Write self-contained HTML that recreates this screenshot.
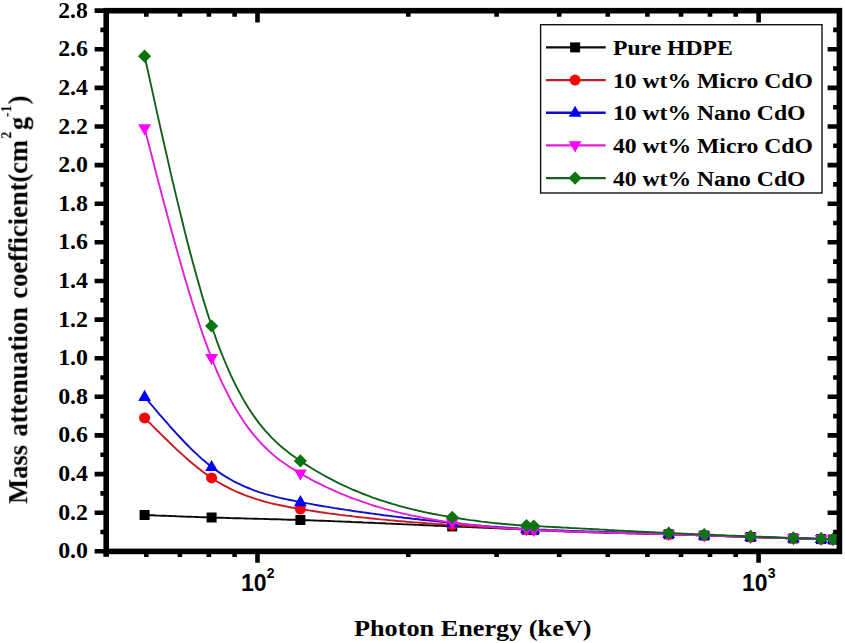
<!DOCTYPE html>
<html><head><meta charset="utf-8"><title>Mass attenuation coefficient</title>
<style>
html,body{margin:0;padding:0;background:#fff;}
body{width:845px;height:643px;position:relative;overflow:hidden;font-family:"Liberation Serif",serif;font-weight:bold;color:#000;}
#wrap{position:absolute;left:0;top:0;width:845px;height:643px;filter:blur(0.55px);}
.yt{position:absolute;right:757.1px;width:60px;text-align:right;font-size:23.3px;line-height:24px;height:24px;transform:scaleX(1.025);transform-origin:100% 50%;white-space:nowrap;}
.lg{position:absolute;left:613.3px;font-size:21.3px;line-height:24px;height:24px;white-space:nowrap;transform:scaleX(1.11);transform-origin:0 50%;}
.xt{position:absolute;font-family:"Liberation Sans",sans-serif;font-weight:bold;font-size:23px;line-height:24px;height:24px;white-space:nowrap;}
.xt sup{font-size:14px;position:relative;top:-4.4px;vertical-align:top;line-height:13px;margin-left:0.2px;}
#xl{position:absolute;left:353.7px;top:613.4px;font-size:23.5px;line-height:30px;white-space:nowrap;transform:scaleX(1.116);transform-origin:0 50%;}
#yl{position:absolute;left:0;top:0;font-size:26.45px;word-spacing:2px;line-height:30px;height:30px;white-space:nowrap;transform-origin:0 0;}
#yl sup{font-size:13.8px;vertical-align:14.9px;line-height:0;}
</style></head><body><div id="wrap">
<svg width="845" height="643" viewBox="0 0 845 643" style="position:absolute;left:0;top:0">
<rect width="845" height="643" fill="#fff"/>
<path d="M144.6 515.0 L147.5 515.1 L150.4 515.2 L153.3 515.3 L156.1 515.5 L159.0 515.6 L161.9 515.7 L164.8 515.8 L167.7 515.9 L170.5 516.0 L173.4 516.1 L176.3 516.3 L179.2 516.4 L182.1 516.5 L184.9 516.6 L187.8 516.7 L190.7 516.8 L193.6 516.9 L196.5 517.0 L199.4 517.1 L202.2 517.2 L205.1 517.3 L208.0 517.4 L210.9 517.5 L213.8 517.6 L216.6 517.7 L219.5 517.8 L222.4 517.8 L225.3 517.9 L228.2 518.0 L231.0 518.1 L233.9 518.2 L236.8 518.2 L239.7 518.3 L242.6 518.4 L245.4 518.5 L248.3 518.6 L251.2 518.6 L254.1 518.7 L257.0 518.8 L259.8 518.9 L262.7 518.9 L265.6 519.0 L268.5 519.1 L271.4 519.2 L274.2 519.2 L277.1 519.3 L280.0 519.4 L282.9 519.5 L285.8 519.6 L288.6 519.7 L291.5 519.7 L294.4 519.8 L297.3 519.9 L300.2 520.0 L303.0 520.1 L305.9 520.2 L308.8 520.3 L311.7 520.4 L314.6 520.5 L317.5 520.6 L320.3 520.7 L323.2 520.8 L326.1 520.9 L329.0 521.0 L331.9 521.1 L334.7 521.3 L337.6 521.4 L340.5 521.5 L343.4 521.6 L346.3 521.7 L349.1 521.8 L352.0 522.0 L354.9 522.1 L357.8 522.2 L360.7 522.3 L363.5 522.5 L366.4 522.6 L369.3 522.7 L372.2 522.8 L375.1 523.0 L377.9 523.1 L380.8 523.2 L383.7 523.3 L386.6 523.5 L389.5 523.6 L392.3 523.7 L395.2 523.9 L398.1 524.0 L401.0 524.1 L403.9 524.3 L406.7 524.4 L409.6 524.5 L412.5 524.6 L415.4 524.8 L418.3 524.9 L421.2 525.0 L424.0 525.2 L426.9 525.3 L429.8 525.4 L432.7 525.5 L435.6 525.7 L438.4 525.8 L441.3 525.9 L444.2 526.0 L447.1 526.2 L450.0 526.3 L452.8 526.4 L455.7 526.5 L458.6 526.7 L461.5 526.8 L464.4 526.9 L467.2 527.0 L470.1 527.1 L473.0 527.3 L475.9 527.4 L478.8 527.5 L481.6 527.6 L484.5 527.7 L487.4 527.8 L490.3 528.0 L493.2 528.1 L496.0 528.2 L498.9 528.3 L501.8 528.5 L504.7 528.6 L507.6 528.7 L510.4 528.9 L513.3 529.0 L516.2 529.1 L519.1 529.3 L522.0 529.4 L524.8 529.6 L527.7 529.7 L530.6 529.9 L533.5 530.0 L536.4 530.2 L539.3 530.3 L542.1 530.5 L545.0 530.6 L547.9 530.7 L550.8 530.9 L553.7 531.0 L556.5 531.1 L559.4 531.2 L562.3 531.3 L565.2 531.4 L568.1 531.5 L570.9 531.6 L573.8 531.7 L576.7 531.8 L579.6 531.9 L582.5 532.0 L585.3 532.1 L588.2 532.2 L591.1 532.3 L594.0 532.4 L596.9 532.4 L599.7 532.5 L602.6 532.6 L605.5 532.7 L608.4 532.7 L611.3 532.8 L614.1 532.9 L617.0 533.0 L619.9 533.0 L622.8 533.1 L625.7 533.2 L628.5 533.2 L631.4 533.3 L634.3 533.4 L637.2 533.5 L640.1 533.5 L643.0 533.6 L645.8 533.7 L648.7 533.8 L651.6 533.8 L654.5 533.9 L657.4 534.0 L660.2 534.1 L663.1 534.1 L666.0 534.2 L668.9 534.3 L671.8 534.4 L674.6 534.5 L677.5 534.6 L680.4 534.7 L683.3 534.8 L686.2 534.9 L689.0 535.0 L691.9 535.1 L694.8 535.1 L697.7 535.2 L700.6 535.3 L703.4 535.4 L706.3 535.5 L709.2 535.6 L712.1 535.7 L715.0 535.8 L717.8 535.9 L720.7 536.0 L723.6 536.1 L726.5 536.2 L729.4 536.3 L732.2 536.4 L735.1 536.5 L738.0 536.6 L740.9 536.7 L743.8 536.8 L746.6 536.9 L749.5 537.0 L752.4 537.1 L755.3 537.2 L758.2 537.3 L761.1 537.4 L763.9 537.5 L766.8 537.5 L769.7 537.6 L772.6 537.7 L775.5 537.8 L778.3 537.9 L781.2 538.0 L784.1 538.1 L787.0 538.2 L789.9 538.3 L792.7 538.3 L795.6 538.4 L798.5 538.5 L801.4 538.6 L804.3 538.7 L807.1 538.7 L810.0 538.8 L812.9 538.9 L815.8 539.0 L818.7 539.1 L821.5 539.1 L824.4 539.2 L827.3 539.3 L830.2 539.4 L833.1 539.5" fill="none" stroke="#0a0a0a" stroke-width="1.9" stroke-linejoin="round"/>
<rect x="139.6" y="510.0" width="10.0" height="10.0" fill="#000000"/>
<rect x="206.6" y="512.5" width="10.0" height="10.0" fill="#000000"/>
<rect x="295.4" y="515.0" width="10.0" height="10.0" fill="#000000"/>
<rect x="447.2" y="521.4" width="10.0" height="10.0" fill="#000000"/>
<rect x="521.5" y="524.7" width="10.0" height="10.0" fill="#000000"/>
<rect x="528.8" y="525.1" width="10.0" height="10.0" fill="#000000"/>
<rect x="663.7" y="529.3" width="10.0" height="10.0" fill="#000000"/>
<rect x="699.2" y="530.5" width="10.0" height="10.0" fill="#000000"/>
<rect x="745.6" y="532.0" width="10.0" height="10.0" fill="#000000"/>
<rect x="788.4" y="533.4" width="10.0" height="10.0" fill="#000000"/>
<rect x="816.1" y="534.1" width="10.0" height="10.0" fill="#000000"/>
<rect x="828.1" y="534.5" width="10.0" height="10.0" fill="#000000"/>
<path d="M144.6 417.9 L147.5 420.8 L150.4 423.7 L153.3 426.6 L156.1 429.5 L159.0 432.3 L161.9 435.2 L164.8 438.0 L167.7 440.8 L170.5 443.6 L173.4 446.4 L176.3 449.1 L179.2 451.7 L182.1 454.4 L184.9 456.9 L187.8 459.5 L190.7 461.9 L193.6 464.4 L196.5 466.7 L199.4 469.0 L202.2 471.2 L205.1 473.4 L208.0 475.4 L210.9 477.4 L213.8 479.3 L216.6 481.2 L219.5 482.9 L222.4 484.6 L225.3 486.1 L228.2 487.7 L231.0 489.1 L233.9 490.5 L236.8 491.8 L239.7 493.0 L242.6 494.2 L245.4 495.4 L248.3 496.4 L251.2 497.4 L254.1 498.4 L257.0 499.3 L259.8 500.2 L262.7 501.0 L265.6 501.8 L268.5 502.6 L271.4 503.3 L274.2 504.0 L277.1 504.6 L280.0 505.2 L282.9 505.8 L285.8 506.4 L288.6 507.0 L291.5 507.5 L294.4 508.0 L297.3 508.5 L300.2 509.0 L303.0 509.5 L305.9 509.9 L308.8 510.4 L311.7 510.8 L314.6 511.3 L317.5 511.7 L320.3 512.1 L323.2 512.5 L326.1 513.0 L329.0 513.4 L331.9 513.7 L334.7 514.1 L337.6 514.5 L340.5 514.9 L343.4 515.2 L346.3 515.6 L349.1 515.9 L352.0 516.3 L354.9 516.6 L357.8 517.0 L360.7 517.3 L363.5 517.6 L366.4 517.9 L369.3 518.2 L372.2 518.5 L375.1 518.8 L377.9 519.1 L380.8 519.4 L383.7 519.6 L386.6 519.9 L389.5 520.2 L392.3 520.4 L395.2 520.7 L398.1 521.0 L401.0 521.2 L403.9 521.4 L406.7 521.7 L409.6 521.9 L412.5 522.2 L415.4 522.4 L418.3 522.6 L421.2 522.8 L424.0 523.0 L426.9 523.3 L429.8 523.5 L432.7 523.7 L435.6 523.9 L438.4 524.1 L441.3 524.3 L444.2 524.5 L447.1 524.7 L450.0 524.9 L452.8 525.1 L455.7 525.3 L458.6 525.5 L461.5 525.6 L464.4 525.8 L467.2 526.0 L470.1 526.2 L473.0 526.4 L475.9 526.6 L478.8 526.7 L481.6 526.9 L484.5 527.1 L487.4 527.3 L490.3 527.4 L493.2 527.6 L496.0 527.8 L498.9 527.9 L501.8 528.1 L504.7 528.3 L507.6 528.4 L510.4 528.6 L513.3 528.8 L516.2 528.9 L519.1 529.1 L522.0 529.2 L524.8 529.4 L527.7 529.5 L530.6 529.7 L533.5 529.8 L536.4 530.0 L539.3 530.1 L542.1 530.3 L545.0 530.4 L547.9 530.5 L550.8 530.7 L553.7 530.8 L556.5 530.9 L559.4 531.0 L562.3 531.1 L565.2 531.3 L568.1 531.4 L570.9 531.5 L573.8 531.6 L576.7 531.7 L579.6 531.8 L582.5 531.9 L585.3 532.0 L588.2 532.1 L591.1 532.1 L594.0 532.2 L596.9 532.3 L599.7 532.4 L602.6 532.5 L605.5 532.6 L608.4 532.6 L611.3 532.7 L614.1 532.8 L617.0 532.9 L619.9 533.0 L622.8 533.0 L625.7 533.1 L628.5 533.2 L631.4 533.3 L634.3 533.3 L637.2 533.4 L640.1 533.5 L643.0 533.6 L645.8 533.7 L648.7 533.7 L651.6 533.8 L654.5 533.9 L657.4 534.0 L660.2 534.1 L663.1 534.1 L666.0 534.2 L668.9 534.3 L671.8 534.4 L674.6 534.5 L677.5 534.6 L680.4 534.7 L683.3 534.8 L686.2 534.9 L689.0 535.0 L691.9 535.1 L694.8 535.1 L697.7 535.2 L700.6 535.3 L703.4 535.4 L706.3 535.5 L709.2 535.6 L712.1 535.7 L715.0 535.8 L717.8 535.9 L720.7 536.0 L723.6 536.1 L726.5 536.2 L729.4 536.3 L732.2 536.4 L735.1 536.5 L738.0 536.6 L740.9 536.7 L743.8 536.8 L746.6 536.9 L749.5 537.0 L752.4 537.1 L755.3 537.2 L758.2 537.3 L761.1 537.4 L763.9 537.5 L766.8 537.5 L769.7 537.6 L772.6 537.7 L775.5 537.8 L778.3 537.9 L781.2 538.0 L784.1 538.1 L787.0 538.2 L789.9 538.3 L792.7 538.3 L795.6 538.4 L798.5 538.5 L801.4 538.6 L804.3 538.7 L807.1 538.7 L810.0 538.8 L812.9 538.9 L815.8 539.0 L818.7 539.1 L821.5 539.1 L824.4 539.2 L827.3 539.3 L830.2 539.4 L833.1 539.5" fill="none" stroke="#c81820" stroke-width="1.9" stroke-linejoin="round"/>
<circle cx="144.6" cy="417.9" r="5.5" fill="#f00808"/>
<circle cx="211.6" cy="477.9" r="5.5" fill="#f00808"/>
<circle cx="300.4" cy="509.0" r="5.5" fill="#f00808"/>
<circle cx="452.2" cy="525.0" r="5.5" fill="#f00808"/>
<circle cx="526.5" cy="529.5" r="5.5" fill="#f00808"/>
<circle cx="533.8" cy="529.9" r="5.5" fill="#f00808"/>
<circle cx="668.7" cy="534.3" r="5.5" fill="#f00808"/>
<circle cx="704.2" cy="535.5" r="5.5" fill="#f00808"/>
<circle cx="750.6" cy="537.0" r="5.5" fill="#f00808"/>
<circle cx="793.4" cy="538.4" r="5.5" fill="#f00808"/>
<circle cx="821.1" cy="539.1" r="5.5" fill="#f00808"/>
<circle cx="833.1" cy="539.5" r="5.5" fill="#f00808"/>
<path d="M144.6 396.8 L147.5 400.2 L150.4 403.6 L153.3 407.0 L156.1 410.4 L159.0 413.8 L161.9 417.1 L164.8 420.4 L167.7 423.7 L170.5 427.0 L173.4 430.2 L176.3 433.3 L179.2 436.5 L182.1 439.5 L184.9 442.5 L187.8 445.5 L190.7 448.4 L193.6 451.2 L196.5 453.9 L199.4 456.6 L202.2 459.2 L205.1 461.6 L208.0 464.0 L210.9 466.3 L213.8 468.5 L216.6 470.6 L219.5 472.6 L222.4 474.6 L225.3 476.4 L228.2 478.1 L231.0 479.7 L233.9 481.3 L236.8 482.8 L239.7 484.2 L242.6 485.6 L245.4 486.8 L248.3 488.0 L251.2 489.2 L254.1 490.3 L257.0 491.3 L259.8 492.3 L262.7 493.2 L265.6 494.1 L268.5 494.9 L271.4 495.7 L274.2 496.4 L277.1 497.2 L280.0 497.9 L282.9 498.5 L285.8 499.1 L288.6 499.7 L291.5 500.3 L294.4 500.9 L297.3 501.5 L300.2 502.0 L303.0 502.6 L305.9 503.1 L308.8 503.6 L311.7 504.1 L314.6 504.7 L317.5 505.2 L320.3 505.7 L323.2 506.2 L326.1 506.6 L329.0 507.1 L331.9 507.6 L334.7 508.1 L337.6 508.5 L340.5 509.0 L343.4 509.4 L346.3 509.9 L349.1 510.3 L352.0 510.8 L354.9 511.2 L357.8 511.6 L360.7 512.0 L363.5 512.4 L366.4 512.8 L369.3 513.2 L372.2 513.6 L375.1 514.0 L377.9 514.4 L380.8 514.8 L383.7 515.2 L386.6 515.5 L389.5 515.9 L392.3 516.3 L395.2 516.6 L398.1 517.0 L401.0 517.3 L403.9 517.7 L406.7 518.0 L409.6 518.3 L412.5 518.7 L415.4 519.0 L418.3 519.3 L421.2 519.7 L424.0 520.0 L426.9 520.3 L429.8 520.6 L432.7 520.9 L435.6 521.2 L438.4 521.5 L441.3 521.8 L444.2 522.1 L447.1 522.4 L450.0 522.7 L452.8 523.0 L455.7 523.3 L458.6 523.5 L461.5 523.8 L464.4 524.1 L467.2 524.4 L470.1 524.6 L473.0 524.9 L475.9 525.2 L478.8 525.4 L481.6 525.7 L484.5 525.9 L487.4 526.1 L490.3 526.4 L493.2 526.6 L496.0 526.8 L498.9 527.1 L501.8 527.3 L504.7 527.5 L507.6 527.7 L510.4 527.9 L513.3 528.1 L516.2 528.3 L519.1 528.5 L522.0 528.6 L524.8 528.8 L527.7 529.0 L530.6 529.1 L533.5 529.3 L536.4 529.4 L539.3 529.6 L542.1 529.7 L545.0 529.8 L547.9 530.0 L550.8 530.1 L553.7 530.2 L556.5 530.3 L559.4 530.4 L562.3 530.5 L565.2 530.7 L568.1 530.8 L570.9 530.9 L573.8 531.0 L576.7 531.1 L579.6 531.2 L582.5 531.3 L585.3 531.4 L588.2 531.4 L591.1 531.5 L594.0 531.6 L596.9 531.7 L599.7 531.8 L602.6 531.9 L605.5 532.0 L608.4 532.1 L611.3 532.1 L614.1 532.2 L617.0 532.3 L619.9 532.4 L622.8 532.5 L625.7 532.6 L628.5 532.6 L631.4 532.7 L634.3 532.8 L637.2 532.9 L640.1 533.0 L643.0 533.1 L645.8 533.2 L648.7 533.2 L651.6 533.3 L654.5 533.4 L657.4 533.5 L660.2 533.6 L663.1 533.7 L666.0 533.8 L668.9 533.9 L671.8 534.0 L674.6 534.1 L677.5 534.2 L680.4 534.4 L683.3 534.5 L686.2 534.6 L689.0 534.7 L691.9 534.8 L694.8 534.9 L697.7 535.0 L700.6 535.1 L703.4 535.2 L706.3 535.3 L709.2 535.5 L712.1 535.6 L715.0 535.7 L717.8 535.8 L720.7 535.8 L723.6 535.9 L726.5 536.0 L729.4 536.1 L732.2 536.2 L735.1 536.3 L738.0 536.4 L740.9 536.5 L743.8 536.6 L746.6 536.7 L749.5 536.8 L752.4 536.9 L755.3 537.0 L758.2 537.1 L761.1 537.2 L763.9 537.3 L766.8 537.3 L769.7 537.4 L772.6 537.5 L775.5 537.6 L778.3 537.7 L781.2 537.8 L784.1 537.9 L787.0 538.0 L789.9 538.1 L792.7 538.2 L795.6 538.2 L798.5 538.3 L801.4 538.4 L804.3 538.5 L807.1 538.5 L810.0 538.6 L812.9 538.7 L815.8 538.8 L818.7 538.9 L821.5 539.0 L824.4 539.0 L827.3 539.1 L830.2 539.2 L833.1 539.3" fill="none" stroke="#1010c8" stroke-width="1.9" stroke-linejoin="round"/>
<path d="M144.6 389.8L151.0 400.9L138.2 400.9Z" fill="#0000ff"/>
<path d="M211.6 459.9L218.0 471.0L205.2 471.0Z" fill="#0000ff"/>
<path d="M300.4 495.1L306.8 506.2L294.0 506.2Z" fill="#0000ff"/>
<path d="M452.2 515.9L458.6 527.0L445.8 527.0Z" fill="#0000ff"/>
<path d="M526.5 521.9L532.9 533.0L520.1 533.0Z" fill="#0000ff"/>
<path d="M533.8 522.3L540.2 533.4L527.4 533.4Z" fill="#0000ff"/>
<path d="M668.7 526.9L675.1 538.0L662.3 538.0Z" fill="#0000ff"/>
<path d="M704.2 528.3L710.6 539.4L697.8 539.4Z" fill="#0000ff"/>
<path d="M750.6 529.8L757.0 540.9L744.2 540.9Z" fill="#0000ff"/>
<path d="M793.4 531.2L799.8 542.3L787.0 542.3Z" fill="#0000ff"/>
<path d="M821.1 531.9L827.5 543.0L814.7 543.0Z" fill="#0000ff"/>
<path d="M833.1 532.3L839.5 543.4L826.7 543.4Z" fill="#0000ff"/>
<path d="M144.6 128.4 L147.5 139.6 L150.4 150.7 L153.3 161.8 L156.1 172.9 L159.0 183.9 L161.9 194.9 L164.8 205.7 L167.7 216.5 L170.5 227.1 L173.4 237.6 L176.3 248.0 L179.2 258.2 L182.1 268.3 L184.9 278.2 L187.8 287.8 L190.7 297.3 L193.6 306.5 L196.5 315.5 L199.4 324.2 L202.2 332.7 L205.1 340.9 L208.0 348.7 L210.9 356.3 L213.8 363.5 L216.6 370.5 L219.5 377.1 L222.4 383.4 L225.3 389.4 L228.2 395.1 L231.0 400.5 L233.9 405.7 L236.8 410.6 L239.7 415.3 L242.6 419.7 L245.4 424.0 L248.3 427.9 L251.2 431.7 L254.1 435.3 L257.0 438.7 L259.8 441.9 L262.7 445.0 L265.6 447.8 L268.5 450.6 L271.4 453.2 L274.2 455.6 L277.1 458.0 L280.0 460.2 L282.9 462.3 L285.8 464.3 L288.6 466.3 L291.5 468.1 L294.4 469.9 L297.3 471.7 L300.2 473.4 L303.0 475.0 L305.9 476.6 L308.8 478.2 L311.7 479.8 L314.6 481.3 L317.5 482.8 L320.3 484.2 L323.2 485.6 L326.1 487.0 L329.0 488.4 L331.9 489.7 L334.7 491.0 L337.6 492.2 L340.5 493.5 L343.4 494.7 L346.3 495.8 L349.1 497.0 L352.0 498.1 L354.9 499.2 L357.8 500.2 L360.7 501.2 L363.5 502.2 L366.4 503.2 L369.3 504.2 L372.2 505.1 L375.1 506.0 L377.9 506.9 L380.8 507.7 L383.7 508.6 L386.6 509.4 L389.5 510.1 L392.3 510.9 L395.2 511.6 L398.1 512.4 L401.0 513.1 L403.9 513.7 L406.7 514.4 L409.6 515.0 L412.5 515.7 L415.4 516.3 L418.3 516.8 L421.2 517.4 L424.0 518.0 L426.9 518.5 L429.8 519.0 L432.7 519.5 L435.6 520.0 L438.4 520.5 L441.3 520.9 L444.2 521.4 L447.1 521.8 L450.0 522.2 L452.8 522.6 L455.7 523.0 L458.6 523.4 L461.5 523.8 L464.4 524.1 L467.2 524.5 L470.1 524.8 L473.0 525.1 L475.9 525.4 L478.8 525.7 L481.6 526.0 L484.5 526.3 L487.4 526.6 L490.3 526.9 L493.2 527.1 L496.0 527.4 L498.9 527.6 L501.8 527.8 L504.7 528.1 L507.6 528.3 L510.4 528.5 L513.3 528.7 L516.2 528.9 L519.1 529.0 L522.0 529.2 L524.8 529.4 L527.7 529.5 L530.6 529.7 L533.5 529.8 L536.4 530.0 L539.3 530.1 L542.1 530.3 L545.0 530.4 L547.9 530.5 L550.8 530.7 L553.7 530.8 L556.5 530.9 L559.4 531.0 L562.3 531.1 L565.2 531.2 L568.1 531.3 L570.9 531.5 L573.8 531.6 L576.7 531.7 L579.6 531.8 L582.5 531.8 L585.3 531.9 L588.2 532.0 L591.1 532.1 L594.0 532.2 L596.9 532.3 L599.7 532.4 L602.6 532.5 L605.5 532.6 L608.4 532.6 L611.3 532.7 L614.1 532.8 L617.0 532.9 L619.9 532.9 L622.8 533.0 L625.7 533.1 L628.5 533.2 L631.4 533.3 L634.3 533.3 L637.2 533.4 L640.1 533.5 L643.0 533.6 L645.8 533.6 L648.7 533.7 L651.6 533.8 L654.5 533.9 L657.4 534.0 L660.2 534.1 L663.1 534.1 L666.0 534.2 L668.9 534.3 L671.8 534.4 L674.6 534.5 L677.5 534.6 L680.4 534.7 L683.3 534.8 L686.2 534.9 L689.0 535.0 L691.9 535.1 L694.8 535.1 L697.7 535.2 L700.6 535.3 L703.4 535.4 L706.3 535.5 L709.2 535.6 L712.1 535.7 L715.0 535.8 L717.8 535.9 L720.7 536.0 L723.6 536.1 L726.5 536.2 L729.4 536.3 L732.2 536.4 L735.1 536.5 L738.0 536.6 L740.9 536.7 L743.8 536.8 L746.6 536.9 L749.5 537.0 L752.4 537.1 L755.3 537.2 L758.2 537.3 L761.1 537.4 L763.9 537.5 L766.8 537.5 L769.7 537.6 L772.6 537.7 L775.5 537.8 L778.3 537.9 L781.2 538.0 L784.1 538.1 L787.0 538.2 L789.9 538.3 L792.7 538.3 L795.6 538.4 L798.5 538.5 L801.4 538.6 L804.3 538.7 L807.1 538.7 L810.0 538.8 L812.9 538.9 L815.8 539.0 L818.7 539.1 L821.5 539.1 L824.4 539.2 L827.3 539.3 L830.2 539.4 L833.1 539.5" fill="none" stroke="#e020d8" stroke-width="1.9" stroke-linejoin="round"/>
<path d="M144.6 135.4L151.0 124.3L138.2 124.3Z" fill="#ff00ff"/>
<path d="M211.6 365.2L218.0 354.1L205.2 354.1Z" fill="#ff00ff"/>
<path d="M300.4 480.5L306.8 469.4L294.0 469.4Z" fill="#ff00ff"/>
<path d="M452.2 529.5L458.6 518.4L445.8 518.4Z" fill="#ff00ff"/>
<path d="M526.5 536.5L532.9 525.4L520.1 525.4Z" fill="#ff00ff"/>
<path d="M533.8 536.9L540.2 525.8L527.4 525.8Z" fill="#ff00ff"/>
<path d="M668.7 541.3L675.1 530.2L662.3 530.2Z" fill="#ff00ff"/>
<path d="M704.2 542.5L710.6 531.4L697.8 531.4Z" fill="#ff00ff"/>
<path d="M750.6 544.0L757.0 532.9L744.2 532.9Z" fill="#ff00ff"/>
<path d="M793.4 545.4L799.8 534.3L787.0 534.3Z" fill="#ff00ff"/>
<path d="M821.1 546.1L827.5 535.0L814.7 535.0Z" fill="#ff00ff"/>
<path d="M833.1 546.5L839.5 535.4L826.7 535.4Z" fill="#ff00ff"/>
<path d="M144.6 56.2 L147.5 69.3 L150.4 82.4 L153.3 95.4 L156.1 108.4 L159.0 121.4 L161.9 134.2 L164.8 147.0 L167.7 159.6 L170.5 172.1 L173.4 184.4 L176.3 196.6 L179.2 208.6 L182.1 220.4 L184.9 232.0 L187.8 243.4 L190.7 254.4 L193.6 265.3 L196.5 275.8 L199.4 286.1 L202.2 296.0 L205.1 305.6 L208.0 314.8 L210.9 323.7 L213.8 332.2 L216.6 340.3 L219.5 348.1 L222.4 355.5 L225.3 362.5 L228.2 369.2 L231.0 375.6 L233.9 381.7 L236.8 387.5 L239.7 392.9 L242.6 398.1 L245.4 403.1 L248.3 407.8 L251.2 412.2 L254.1 416.4 L257.0 420.4 L259.8 424.1 L262.7 427.7 L265.6 431.1 L268.5 434.2 L271.4 437.3 L274.2 440.1 L277.1 442.9 L280.0 445.5 L282.9 447.9 L285.8 450.3 L288.6 452.5 L291.5 454.7 L294.4 456.8 L297.3 458.8 L300.2 460.8 L303.0 462.7 L305.9 464.6 L308.8 466.4 L311.7 468.2 L314.6 470.0 L317.5 471.7 L320.3 473.3 L323.2 475.0 L326.1 476.6 L329.0 478.1 L331.9 479.6 L334.7 481.1 L337.6 482.6 L340.5 484.0 L343.4 485.4 L346.3 486.7 L349.1 488.0 L352.0 489.3 L354.9 490.5 L357.8 491.7 L360.7 492.9 L363.5 494.0 L366.4 495.2 L369.3 496.2 L372.2 497.3 L375.1 498.3 L377.9 499.3 L380.8 500.3 L383.7 501.2 L386.6 502.1 L389.5 503.0 L392.3 503.9 L395.2 504.7 L398.1 505.6 L401.0 506.4 L403.9 507.1 L406.7 507.9 L409.6 508.6 L412.5 509.3 L415.4 510.0 L418.3 510.7 L421.2 511.3 L424.0 512.0 L426.9 512.6 L429.8 513.2 L432.7 513.8 L435.6 514.3 L438.4 514.9 L441.3 515.4 L444.2 515.9 L447.1 516.4 L450.0 516.9 L452.8 517.4 L455.7 517.9 L458.6 518.3 L461.5 518.8 L464.4 519.2 L467.2 519.6 L470.1 520.1 L473.0 520.4 L475.9 520.8 L478.8 521.2 L481.6 521.6 L484.5 521.9 L487.4 522.3 L490.3 522.6 L493.2 522.9 L496.0 523.2 L498.9 523.5 L501.8 523.8 L504.7 524.0 L507.6 524.3 L510.4 524.5 L513.3 524.7 L516.2 525.0 L519.1 525.2 L522.0 525.3 L524.8 525.5 L527.7 525.7 L530.6 525.8 L533.5 526.0 L536.4 526.1 L539.3 526.3 L542.1 526.4 L545.0 526.6 L547.9 526.7 L550.8 526.9 L553.7 527.0 L556.5 527.2 L559.4 527.3 L562.3 527.5 L565.2 527.6 L568.1 527.8 L570.9 528.0 L573.8 528.1 L576.7 528.3 L579.6 528.4 L582.5 528.6 L585.3 528.7 L588.2 528.9 L591.1 529.0 L594.0 529.2 L596.9 529.3 L599.7 529.5 L602.6 529.6 L605.5 529.8 L608.4 530.0 L611.3 530.1 L614.1 530.3 L617.0 530.4 L619.9 530.6 L622.8 530.7 L625.7 530.9 L628.5 531.0 L631.4 531.1 L634.3 531.3 L637.2 531.4 L640.1 531.6 L643.0 531.7 L645.8 531.9 L648.7 532.0 L651.6 532.1 L654.5 532.3 L657.4 532.4 L660.2 532.6 L663.1 532.7 L666.0 532.8 L668.9 533.0 L671.8 533.1 L674.6 533.2 L677.5 533.4 L680.4 533.5 L683.3 533.6 L686.2 533.7 L689.0 533.9 L691.9 534.0 L694.8 534.1 L697.7 534.2 L700.6 534.3 L703.4 534.5 L706.3 534.6 L709.2 534.7 L712.1 534.8 L715.0 535.0 L717.8 535.1 L720.7 535.2 L723.6 535.3 L726.5 535.4 L729.4 535.6 L732.2 535.7 L735.1 535.8 L738.0 535.9 L740.9 536.0 L743.8 536.2 L746.6 536.3 L749.5 536.4 L752.4 536.5 L755.3 536.6 L758.2 536.7 L761.1 536.8 L763.9 537.0 L766.8 537.1 L769.7 537.2 L772.6 537.3 L775.5 537.4 L778.3 537.5 L781.2 537.6 L784.1 537.7 L787.0 537.8 L789.9 537.9 L792.7 538.0 L795.6 538.0 L798.5 538.1 L801.4 538.2 L804.3 538.3 L807.1 538.4 L810.0 538.4 L812.9 538.5 L815.8 538.6 L818.7 538.7 L821.5 538.8 L824.4 538.9 L827.3 538.9 L830.2 539.0 L833.1 539.1" fill="none" stroke="#12601a" stroke-width="1.9" stroke-linejoin="round"/>
<path d="M144.6 49.6L151.2 56.2L144.6 62.8L138.0 56.2Z" fill="#0a7410"/>
<path d="M211.6 319.4L218.2 326.0L211.6 332.6L205.0 326.0Z" fill="#0a7410"/>
<path d="M300.4 454.3L307.0 460.9L300.4 467.5L293.8 460.9Z" fill="#0a7410"/>
<path d="M452.2 510.7L458.8 517.3L452.2 523.9L445.6 517.3Z" fill="#0a7410"/>
<path d="M526.5 519.0L533.1 525.6L526.5 532.2L519.9 525.6Z" fill="#0a7410"/>
<path d="M533.8 519.4L540.4 526.0L533.8 532.6L527.2 526.0Z" fill="#0a7410"/>
<path d="M668.7 526.4L675.3 533.0L668.7 539.6L662.1 533.0Z" fill="#0a7410"/>
<path d="M704.2 527.9L710.8 534.5L704.2 541.1L697.6 534.5Z" fill="#0a7410"/>
<path d="M750.6 529.8L757.2 536.4L750.6 543.0L744.0 536.4Z" fill="#0a7410"/>
<path d="M793.4 531.4L800.0 538.0L793.4 544.6L786.8 538.0Z" fill="#0a7410"/>
<path d="M821.1 532.1L827.7 538.7L821.1 545.3L814.5 538.7Z" fill="#0a7410"/>
<path d="M833.1 532.5L839.7 539.1L833.1 545.7L826.5 539.1Z" fill="#0a7410"/>
<rect x="106.2" y="10.7" width="733.1999999999999" height="540.6999999999999" fill="none" stroke="#000" stroke-width="5.6"/>
<path d="M94.6 551.3H106.2 M839.4 551.3H827.6 M100.4 532.0H106.2 M839.4 532.0H833.1 M94.6 512.7H106.2 M839.4 512.7H827.6 M100.4 493.4H106.2 M839.4 493.4H833.1 M94.6 474.1H106.2 M839.4 474.1H827.6 M100.4 454.7H106.2 M839.4 454.7H833.1 M94.6 435.4H106.2 M839.4 435.4H827.6 M100.4 416.1H106.2 M839.4 416.1H833.1 M94.6 396.8H106.2 M839.4 396.8H827.6 M100.4 377.5H106.2 M839.4 377.5H833.1 M94.6 358.2H106.2 M839.4 358.2H827.6 M100.4 338.9H106.2 M839.4 338.9H833.1 M94.6 319.6H106.2 M839.4 319.6H827.6 M100.4 300.3H106.2 M839.4 300.3H833.1 M94.6 281.0H106.2 M839.4 281.0H827.6 M100.4 261.6H106.2 M839.4 261.6H833.1 M94.6 242.3H106.2 M839.4 242.3H827.6 M100.4 223.0H106.2 M839.4 223.0H833.1 M94.6 203.7H106.2 M839.4 203.7H827.6 M100.4 184.4H106.2 M839.4 184.4H833.1 M94.6 165.1H106.2 M839.4 165.1H827.6 M100.4 145.8H106.2 M839.4 145.8H833.1 M94.6 126.5H106.2 M839.4 126.5H827.6 M100.4 107.2H106.2 M839.4 107.2H833.1 M94.6 87.9H106.2 M839.4 87.9H827.6 M100.4 68.5H106.2 M839.4 68.5H833.1 M94.6 49.2H106.2 M839.4 49.2H827.6 M100.4 29.9H106.2 M839.4 29.9H833.1 M94.6 10.6H106.2 M839.4 10.6H827.6 M146.3 551.4V557.0 M146.3 10.7V16.8 M179.9 551.4V557.0 M179.9 10.7V16.8 M208.9 551.4V557.0 M208.9 10.7V16.8 M234.6 551.4V557.0 M234.6 10.7V16.8 M257.5 551.4V562.7 M257.5 10.7V22.5 M408.3 551.4V557.0 M408.3 10.7V16.8 M496.6 551.4V557.0 M496.6 10.7V16.8 M559.2 551.4V557.0 M559.2 10.7V16.8 M607.8 551.4V557.0 M607.8 10.7V16.8 M647.4 551.4V557.0 M647.4 10.7V16.8 M681.0 551.4V557.0 M681.0 10.7V16.8 M710.0 551.4V557.0 M710.0 10.7V16.8 M735.7 551.4V557.0 M735.7 10.7V16.8 M758.6 551.4V562.7 M758.6 10.7V22.5" stroke="#000" stroke-width="4.6" fill="none"/>
<path d="M106.2 551.4V556.8" stroke="#000" stroke-width="5.6" fill="none"/>
<rect x="540.6" y="24.7" width="281.4" height="168.3" fill="#fff" stroke="#111" stroke-width="1.4"/>
<path d="M546 47.4H605.7" stroke="#0a0a0a" stroke-width="2.3"/>
<rect x="570.1" y="42.4" width="10.0" height="10.0" fill="#000000"/>
<path d="M546 80.07H605.7" stroke="#c81820" stroke-width="2.3"/>
<circle cx="575.1" cy="80.1" r="5.5" fill="#f00808"/>
<path d="M546 112.74000000000001H605.7" stroke="#1010c8" stroke-width="2.3"/>
<path d="M575.1 105.7L581.5 116.8L568.7 116.8Z" fill="#0000ff"/>
<path d="M546 145.41H605.7" stroke="#e020d8" stroke-width="2.3"/>
<path d="M575.1 152.4L581.5 141.3L568.7 141.3Z" fill="#ff00ff"/>
<path d="M546 178.08H605.7" stroke="#12601a" stroke-width="2.3"/>
<path d="M575.1 171.5L581.7 178.1L575.1 184.7L568.5 178.1Z" fill="#0a7410"/>
</svg>
<div class="yt" style="top:538.3px">0.0</div>
<div class="yt" style="top:499.7px">0.2</div>
<div class="yt" style="top:461.1px">0.4</div>
<div class="yt" style="top:422.4px">0.6</div>
<div class="yt" style="top:383.8px">0.8</div>
<div class="yt" style="top:345.2px">1.0</div>
<div class="yt" style="top:306.6px">1.2</div>
<div class="yt" style="top:268.0px">1.4</div>
<div class="yt" style="top:229.3px">1.6</div>
<div class="yt" style="top:190.7px">1.8</div>
<div class="yt" style="top:152.1px">2.0</div>
<div class="yt" style="top:113.5px">2.2</div>
<div class="yt" style="top:74.9px">2.4</div>
<div class="yt" style="top:36.2px">2.6</div>
<div class="yt" style="top:-2.4px">2.8</div>
<div class="lg" style="top:36.0px">Pure HDPE</div>
<div class="lg" style="top:68.7px">10 wt% Micro CdO</div>
<div class="lg" style="top:101.3px">10 wt% Nano CdO</div>
<div class="lg" style="top:134.0px">40 wt% Micro CdO</div>
<div class="lg" style="top:166.7px">40 wt% Nano CdO</div>
<div class="xt" id="x2" style="left:241px;top:571px;transform:translateY(0.4px)">10<sup>2</sup></div>
<div class="xt" id="x3" style="left:742px;top:571px;transform:translateY(0.4px)">10<sup>3</sup></div>
<div id="xl">Photon Energy (keV)</div>
<div id="yl" style="transform:translate(1.4px,503.8px) rotate(-90deg) scaleY(1.06)">Mass attenuation coefficient(cm<sup style="margin-left:1.6px;margin-right:1.4px">2</sup>g<sup style="margin-right:1.2px">-1</sup>)</div>
</div></body></html>
